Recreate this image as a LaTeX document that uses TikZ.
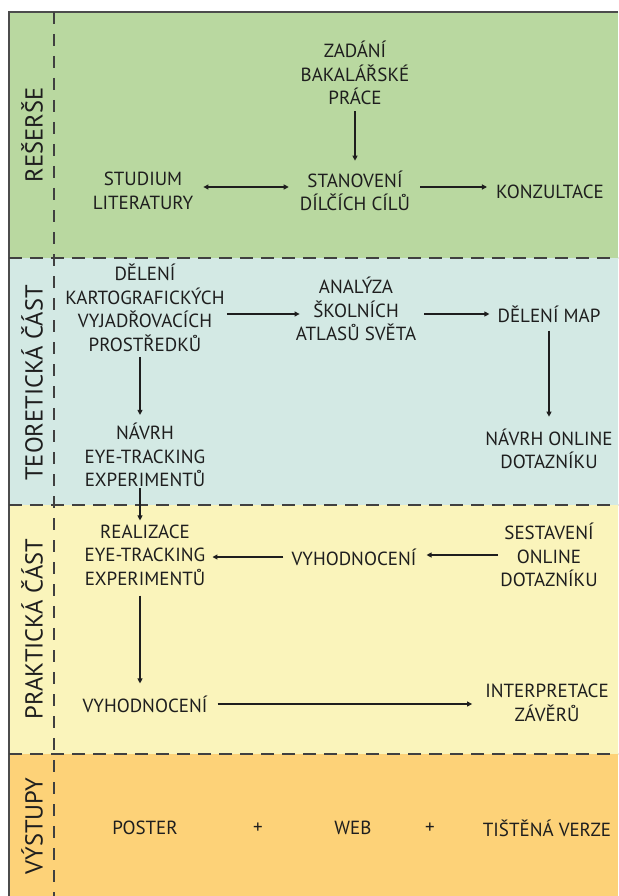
\documentclass[tikz,border=0pt]{standalone}
\usepackage{fontspec}
\setmainfont{PT Sans}
\usetikzlibrary{arrows.meta}
\definecolor{cgreen}{RGB}{185,216,160}
\definecolor{cblue}{RGB}{211,233,228}
\definecolor{cyellow}{RGB}{250,244,187}
\definecolor{corange}{RGB}{253,210,120}
\definecolor{ink}{RGB}{30,30,30}
\begin{document}
\begin{tikzpicture}[x=1pt,y=-1pt,
  lbl/.style={align=center, font=\fontsize{19}{23.5}\selectfont, inner sep=0pt, text=ink},
  side/.style={rotate=90, font=\fontsize{24.5}{28}\selectfont, inner sep=0pt, text=ink},
  arr/.style={-{Triangle[length=5pt,width=5pt]}, line width=1.1pt, draw=ink},
  darr/.style={{Triangle[length=5pt,width=5pt]}-{Triangle[length=5pt,width=5pt]}, line width=1.1pt, draw=ink},
  sep/.style={dash pattern=on 13pt off 8pt, line width=1.1pt, draw=black!75},
  vsep/.style={dash pattern=on 12pt off 10pt, line width=1.1pt, draw=black!75}]
\useasboundingbox (0,0) rectangle (618,896);
% bands
\fill[cgreen] (9,12) rectangle (618,258);
\fill[cblue] (9,258) rectangle (618,505);
\fill[cyellow] (9,505) rectangle (618,754);
\fill[corange] (9,754) rectangle (618,896);
\draw[line width=1.2pt, black!70] (618,12) -- (9,12) -- (9,896);
\draw[sep] (9,258) -- (618,258);
\draw[sep] (9,505) -- (618,505);
\draw[sep] (9,754) -- (618,754);
\draw[vsep] (54,12) -- (54,896);
% side labels
\node[side] (res) at (32,135) {REŠERŠE};
\node[side] (teo) at (32,383) {TEORETICKÁ ČÁST};
\node[side] (prak) at (32,629) {PRAKTICKÁ ČÁST};
\node[side] (vys) at (32,826) {VÝSTUPY};
% research
\node[lbl] (zad) at (355,73) {ZADÁNÍ\\BAKALÁŘSKÉ\\PRÁCE};
\node[lbl] (stan) at (355,191) {STANOVENÍ\\DÍLČÍCH CÍLŮ};
\node[lbl] (stud) at (143,191) {STUDIUM\\LITERATURY};
\node[lbl] (konz) at (550,192) {KONZULTACE};
% theory
\node[lbl] (del) at (145,308) {DĚLENÍ\\KARTOGRAFICKÝCH\\VYJADŘOVACÍCH\\PROSTŘEDKŮ};
\node[lbl] (anal) at (356,309) {ANALÝZA\\ŠKOLNÍCH\\ATLASŮ SVĚTA};
\node[lbl] (map) at (549,314) {DĚLENÍ MAP};
\node[lbl] (navonl) at (549,449) {NÁVRH ONLINE\\DOTAZNÍKU};
\node[lbl] (naveye) at (145,455) {NÁVRH\\EYE-TRACKING\\EXPERIMENTŮ};
% practice
\node[lbl] (real) at (145,555) {REALIZACE\\EYE-TRACKING\\EXPERIMENTŮ};
\node[lbl] (sest) at (549,555) {SESTAVENÍ\\ONLINE\\DOTAZNÍKU};
\node[lbl] (vyh1) at (354,557) {VYHODNOCENÍ};
\node[lbl] (vyh2) at (145,704) {VYHODNOCENÍ};
\node[lbl] (interp) at (547,703) {INTERPRETACE\\ZÁVĚRŮ};
% outputs
\node[lbl] (poster) at (145,828) {POSTER};
\node[lbl] (plus1) at (258,828) {+};
\node[lbl] (web) at (353,828) {WEB};
\node[lbl] (plus2) at (430,828) {+};
\node[lbl] (tist) at (547,828) {TIŠTĚNÁ VERZE};
% connectors
\draw[arr, shorten <=6pt, shorten >=10pt] (zad.south) -- (stan.north);
\draw[darr, shorten <=10pt, shorten >=11pt] ([yshift=4pt]stud.east) -- ([yshift=4pt]stud.east -| stan.west);
\draw[arr, shorten <=10pt, shorten >=9pt] ([yshift=4pt]stan.east) -- ([yshift=4pt]stan.east -| konz.west);
\draw[arr, shorten <=2pt, shorten >=-4pt] ([yshift=-6pt]del.east) -- ([yshift=-6pt]del.east -| anal.west);
\draw[arr, shorten <=8pt, shorten >=8pt] ([yshift=-5pt]anal.east) -- (map.west);
\draw[arr, shorten <=8pt, shorten >=12pt] (map.south) -- (navonl.north);
\draw[arr, shorten <=5pt, shorten >=8pt] ([xshift=-5pt]del.south) -- ([xshift=-5pt]del.south |- naveye.north);
\draw[arr, shorten <=1pt, shorten >=4pt] ([xshift=-5pt]naveye.south) -- ([xshift=-5pt]naveye.south |- real.north);
\draw[arr, shorten <=2pt, shorten >=10pt] (sest.west) -- (sest.west -| vyh1.east);
\draw[arr, shorten <=8pt, shorten >=7pt] (vyh1.west) -- (vyh1.west -| real.east);
\draw[arr, shorten <=10pt, shorten >=12pt] ([xshift=-5pt]real.south) -- ([xshift=-5pt]real.south |- vyh2.north);
\draw[arr, shorten <=10pt, shorten >=13pt] (vyh2.east) -- (vyh2.east -| interp.west);
\end{tikzpicture}
\end{document}
